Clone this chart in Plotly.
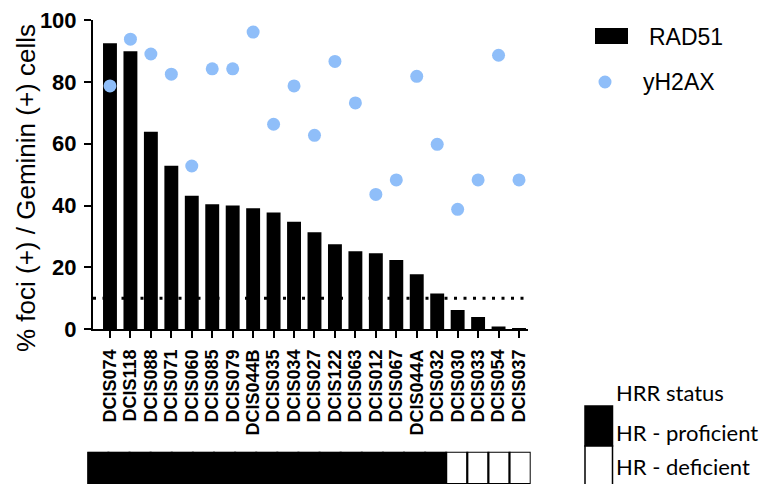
import plotly.graph_objects as go

# the page adds an 8px body margin, so the figure is sized to fit the window
OFF = 8
W, H = 768 - OFF, 484 - OFF

samples = ["DCIS074", "DCIS118", "DCIS088", "DCIS071", "DCIS060", "DCIS085", "DCIS079",
           "DCIS044B", "DCIS035", "DCIS034", "DCIS027", "DCIS122", "DCIS063", "DCIS012",
           "DCIS067", "DCIS044A", "DCIS032", "DCIS030", "DCIS033", "DCIS054", "DCIS037"]
rad51 = [92.5, 89.9, 63.9, 52.9, 43.2, 40.4, 40.0, 39.1, 37.8, 34.8, 31.4, 27.5, 25.2,
         24.6, 22.4, 17.8, 11.6, 6.2, 4.0, 0.9, 0.2]
yh2ax = [78.7, 93.8, 89.0, 82.5, 52.8, 84.2, 84.2, 96.1, 66.3, 78.7, 62.7, 86.6, 73.2,
         43.6, 48.3, 81.8, 59.8, 38.8, 48.3, 88.6, 48.3]
hrr_status = ["HR - proficient"] * 17 + ["HR - deficient"] * 4
threshold = 10
y_ticks = [0, 20, 40, 60, 80, 100]

BLUE = "#8FBEF9"
FONT = "Liberation Sans"
status_colors = {"HR - proficient": "black", "HR - deficient": "white"}


def px(x):
    return (x - OFF) / W


def py(y):
    return 1 - (y - OFF) / H


fig = go.Figure()

fig.add_trace(go.Bar(
    x=samples, y=rad51, name="RAD51", width=0.68,
    marker=dict(color="black", line=dict(width=0)),
    xaxis="x", yaxis="y", showlegend=False,
))
fig.add_trace(go.Scatter(
    x=samples, y=yh2ax, name="yH2AX", mode="markers",
    marker=dict(color=BLUE, size=13, line=dict(width=0)),
    xaxis="x", yaxis="y", showlegend=False,
))
fig.add_trace(go.Bar(
    x=samples, y=[1] * len(samples), name="HRR status", width=1,
    marker=dict(color=[status_colors[s] for s in hrr_status],
                line=dict(color="black", width=2)),
    xaxis="x2", yaxis="y2", showlegend=False, hoverinfo="skip",
))

# dotted threshold line (behind bars)
fig.add_shape(type="line", xref="x domain", yref="y", x0=0, x1=1,
              y0=threshold, y1=threshold, layer="below",
              line=dict(color="black", width=3, dash="3px,6.5px"))

# Legend: RAD51 / yH2AX
fig.add_shape(type="rect", xref="paper", yref="paper",
              x0=px(595), x1=px(628), y0=py(44), y1=py(28),
              fillcolor="black", line=dict(width=0))
fig.add_shape(type="circle", xref="paper", yref="paper",
              x0=px(598.5), x1=px(611.5), y0=py(88.5), y1=py(75.5),
              fillcolor=BLUE, line=dict(width=0))
ann = []
ann.append(dict(text="RAD51", x=px(647), y=py(37), xref="paper", yref="paper",
                xanchor="left", yanchor="middle", showarrow=False,
                font=dict(family=FONT, size=23, color="black")))
ann.append(dict(text="yH2AX", x=px(641), y=py(82), xref="paper", yref="paper",
                xanchor="left", yanchor="middle", showarrow=False,
                font=dict(family=FONT, size=23, color="black")))

# Legend: HRR status
fig.add_shape(type="rect", xref="paper", yref="paper",
              x0=px(585), x1=px(612.5), y0=py(446), y1=py(406),
              fillcolor="black", line=dict(color="black", width=1.5))
fig.add_shape(type="rect", xref="paper", yref="paper",
              x0=px(585), x1=px(612.5), y0=-0.05, y1=py(446),
              fillcolor="white", line=dict(color="black", width=1.5))
ann.append(dict(text="HRR status", x=px(614), y=py(392), xref="paper", yref="paper",
                xanchor="left", yanchor="middle", showarrow=False,
                font=dict(family="Lato", size=22, color="black")))
ann.append(dict(text="HR - proficient", x=px(614), y=py(432), xref="paper", yref="paper",
                xanchor="left", yanchor="middle", showarrow=False,
                font=dict(family="Lato", size=22, color="black")))
ann.append(dict(text="HR - deficient", x=px(614), y=py(466), xref="paper", yref="paper",
                xanchor="left", yanchor="middle", showarrow=False,
                font=dict(family="Lato", size=22, color="black")))

# y-axis title
ann.append(dict(text="% foci (+) / Geminin (+) cells", x=px(26), y=py(188),
                xref="paper", yref="paper", xanchor="center", yanchor="middle",
                textangle=-90, showarrow=False,
                font=dict(family=FONT, size=26, color="black")))

fig.update_layout(
    width=W, height=H,
    margin=dict(l=0, r=0, t=0, b=0, autoexpand=False),
    paper_bgcolor="white", plot_bgcolor="white",
    showlegend=False,
    annotations=ann,
    xaxis=dict(
        domain=[px(93), px(528)], range=[-0.83, 20.44], type="category",
        tickmode="array", tickvals=samples, ticktext=samples,
        showline=True, linecolor="black", linewidth=2,
        ticks="outside", ticklen=7, tickwidth=2, tickcolor="black",
        tickangle=-90, ticklabelstandoff=4, automargin=False,
        ticklabeloverflow="allow",
        tickfont=dict(family=FONT, size=18, color="black", weight="bold"),
        showgrid=False, zeroline=False, anchor="y",
    ),
    yaxis=dict(
        domain=[py(329.3), py(20)], range=[0, 100],
        tickmode="array", tickvals=y_ticks,
        showline=True, linecolor="black", linewidth=2,
        ticks="outside", ticklen=7, tickwidth=2, tickcolor="black",
        ticklabelstandoff=3, automargin=False,
        ticklabeloverflow="allow",
        tickfont=dict(family=FONT, size=22, color="black", weight="bold"),
        showgrid=False, zeroline=False, anchor="x",
    ),
    xaxis2=dict(
        domain=[px(87.3), px(530.7)], range=[-0.5, 20.5], type="category",
        showticklabels=False, showline=False, showgrid=False, zeroline=False,
        ticks="", anchor="y2", automargin=False,
    ),
    yaxis2=dict(
        domain=[0, py(451.7)], range=[0, 1],
        showticklabels=False, showline=False, showgrid=False, zeroline=False,
        ticks="", anchor="x2", automargin=False,
    ),
)

fig.write_html("out.html")
